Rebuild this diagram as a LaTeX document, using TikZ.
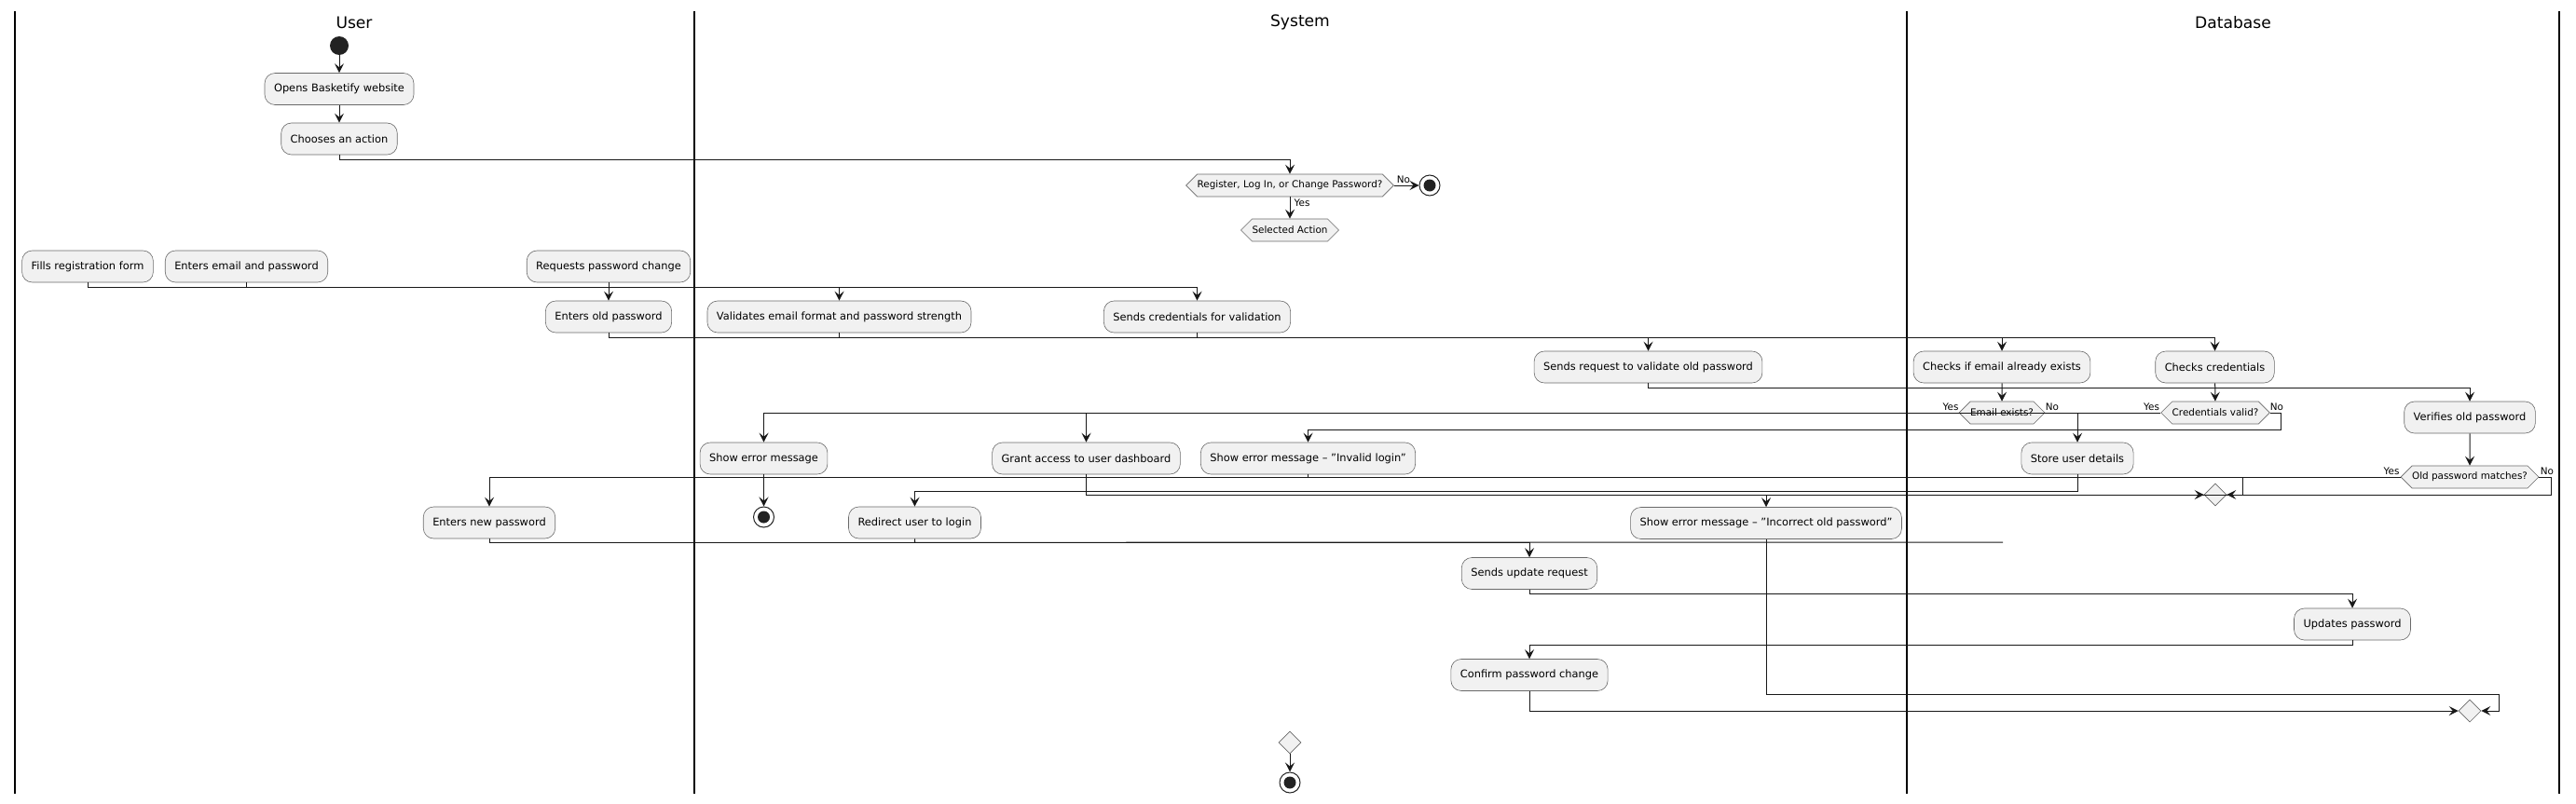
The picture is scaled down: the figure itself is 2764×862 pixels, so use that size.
\documentclass[tikz,border=0pt]{standalone}
\usepackage{fontspec}
\setmainfont{DejaVu Sans}
\usetikzlibrary{arrows.meta, shapes.geometric, shapes.symbols, calc}
\definecolor{actfill}{HTML}{F1F1F1}
\definecolor{actline}{HTML}{181818}
\definecolor{actdark}{HTML}{222222}
\tikzset{
action/.style={draw=actline!65, fill=actfill, rounded corners=11pt, minimum height=34pt,
  inner xsep=10pt, inner ysep=0pt, line width=0.6pt, font=\fontsize{11.4}{13}\selectfont},
choice/.style={draw=actline!65, fill=actfill, signal, signal to=west and east, minimum height=24pt,
  inner xsep=0pt, inner ysep=0pt, line width=0.6pt, font=\fontsize{10.4}{12}\selectfont},
merge/.style={draw=actline!65, fill=actfill, diamond, minimum width=24pt, minimum height=24pt,
  inner sep=0pt, line width=0.6pt},
startnode/.style={circle, fill=actdark, minimum size=20pt, inner sep=0pt},
stopnode/.style={circle, draw=actdark, line width=1pt, fill=white, minimum size=22pt, inner sep=0pt,
  path picture={\fill[actdark] (path picture bounding box.center) circle (6.5pt);}},
link/.style={draw=actline, line width=1pt},
flow/.style={link, -{Stealth[length=10pt,width=10pt,inset=4pt]}},
guard/.style={inner sep=0pt, font=\fontsize{10.4}{12}\selectfont},
lane/.style={line width=1.5pt},
lanetitle/.style={font=\fontsize{17.1}{20}\selectfont},
}

\begin{document}
\begin{tikzpicture}[x=1pt, y=-1pt]
\useasboundingbox (0,0) rectangle (2764,862);
% swimlanes
\foreach \lx in {16,745,2046,2746} \draw[lane] (\lx,12) -- (\lx,852);
\node[lanetitle] (userlane) at (380,24) {User};
\node[lanetitle] (syslane) at (1395,24) {System};
\node[lanetitle] (dblane) at (2396,24) {Database};

% User
\node[startnode] (start) at (364,49) {};
\node[action] (open) at (364,95.5) {Opens Basketify website};
\node[action] (choose) at (364,149) {Chooses an action};
\node[action] (fillreg) at (94,286) {Fills registration form};
\node[action] (enteremail) at (264.5,286) {Enters email and password};
\node[action] (reqchange) at (653,286) {Requests password change};
\node[action] (enterold) at (653,340) {Enters old password};
\node[action] (enternew) at (525,561) {Enters new password};

% System
\node[choice] (qmode) at (1384,199) {Register, Log In, or Change Password?};
\node[stopnode] (stop1) at (1534,199) {};
\node[choice] (selact) at (1384,247) {Selected Action};
\node[action] (validate) at (900.5,340) {Validates email format and password strength};
\node[action] (sendcred) at (1284.5,340) {Sends credentials for validation};
\node[action] (sendold) at (1768.5,394) {Sends request to validate old password};
\node[action] (showerr) at (819.5,492) {Show error message};
\node[stopnode] (stop2) at (819.5,555) {};
\node[action] (grant) at (1165.5,492) {Grant access to user dashboard};
\node[action] (invalid) at (1403.5,492) {Show error message – "Invalid login"};
\node[action] (redirect) at (981.5,561) {Redirect user to login};
\node[action] (incorrect) at (1895,561.5) {Show error message – "Incorrect old password"};
\node[action] (sendupd) at (1641,615.5) {Sends update request};
\node[action] (confirm) at (1641,724.5) {Confirm password change};
\node[merge] (merge3) at (1384,797) {};
\node[stopnode] (stop3) at (1384,840) {};

% Database
\node[action] (chkemail) at (2148,394) {Checks if email already exists};
\node[action] (chkcred) at (2376.5,394) {Checks credentials};
\node[action] (verify) at (2650,448) {Verifies old password};
\node[choice] (qemail) at (2148,443) {Email exists?};
\node[choice] (qcred) at (2377,443) {Credentials valid?};
\node[action] (store) at (2229,492) {Store user details};
\node[choice] (qold) at (2650,512) {Old password matches?};
\node[merge] (merge1) at (2377,531) {};
\node[action] (updpw) at (2524,670) {Updates password};
\node[merge] (merge2) at (2650,763) {};
\coordinate (redirend) at (2149,582);

% guards
\node[guard] (modeno) at (1506,192.5) {No};
\node[guard] (modeyes) at (1397,217.5) {Yes};
\node[guard] (emailyes) at (2093,437) {Yes};
\node[guard] (emailno) at (2202,437) {No};
\node[guard] (credyes) at (2308.5,437) {Yes};
\node[guard] (credno) at (2443,437) {No};
\node[guard] (oldyes) at (2566,506) {Yes};
\node[guard] (oldno) at (2733,506) {No};

% flows
\draw[flow] (start) -- (open);
\draw[flow] (open) -- (choose);
\draw[flow] (choose.south) -- ++(0,5) -| (qmode.north);
\draw[flow] (qmode.east) -- (stop1);
\draw[flow] (qmode.south) -- (selact.north);
\draw[flow] (fillreg.south) -- ++(0,5) -| (validate.north);
\draw[flow] (enteremail.south) -- ++(0,5) -| (sendcred.north);
\draw[flow] (reqchange) -- (enterold);
\draw[flow] (enterold.south) -- ++(0,5) -| (sendold.north);
\draw[flow] (validate.south) -- ++(0,5) -| (chkemail.north);
\draw[flow] (sendcred.south) -- ++(0,5) -| (chkcred.north);
\draw[flow] (sendold.south) -- ++(0,5) -| (verify.north);
\draw[flow] (chkemail) -- (qemail);
\draw[flow] (chkcred) -- (qcred);
\draw[flow] (verify) -- (qold);
\draw[flow] (qemail.west) -| (showerr.north);
\draw[flow] (qemail.east) -| (store.north);
\draw[flow] (qcred.west) -| (grant.north);
\draw[flow] (qcred.east) -- ++(12,0) -- ++(0,18) -| (invalid.north);
\draw[flow] (showerr) -- (stop2);
\draw[flow] (store.south) -- ++(0,18) -| (redirect.north);
\draw[flow] (grant.south) |- (merge1.west);
\draw[flow] (invalid.south) -- ++(0,3) -| ($(merge1.east)+(17,0)$) -- (merge1.east);
\draw[flow] (qold.west) -| (enternew.north);
\draw[flow] (qold.east) -- ++(13,0) -- ++(0,19) -| (incorrect.north);
\draw[flow] (enternew.south) -- ++(0,4) -| (sendupd.north);
\draw[link] (redirect.south) -- ++(0,4) -- (redirend);
\draw[flow] (sendupd.south) -- ++(0,5) -| (updpw.north);
\draw[flow] (updpw.south) -- ++(0,5) -| (confirm.north);
\draw[flow] (confirm.south) |- (merge2.west);
\draw[flow] (incorrect.south) |- ($(merge2.east)+(19,-18)$) -- ++(0,18) -- (merge2.east);
\draw[flow] (merge3) -- (stop3);
\end{tikzpicture}
\end{document}
